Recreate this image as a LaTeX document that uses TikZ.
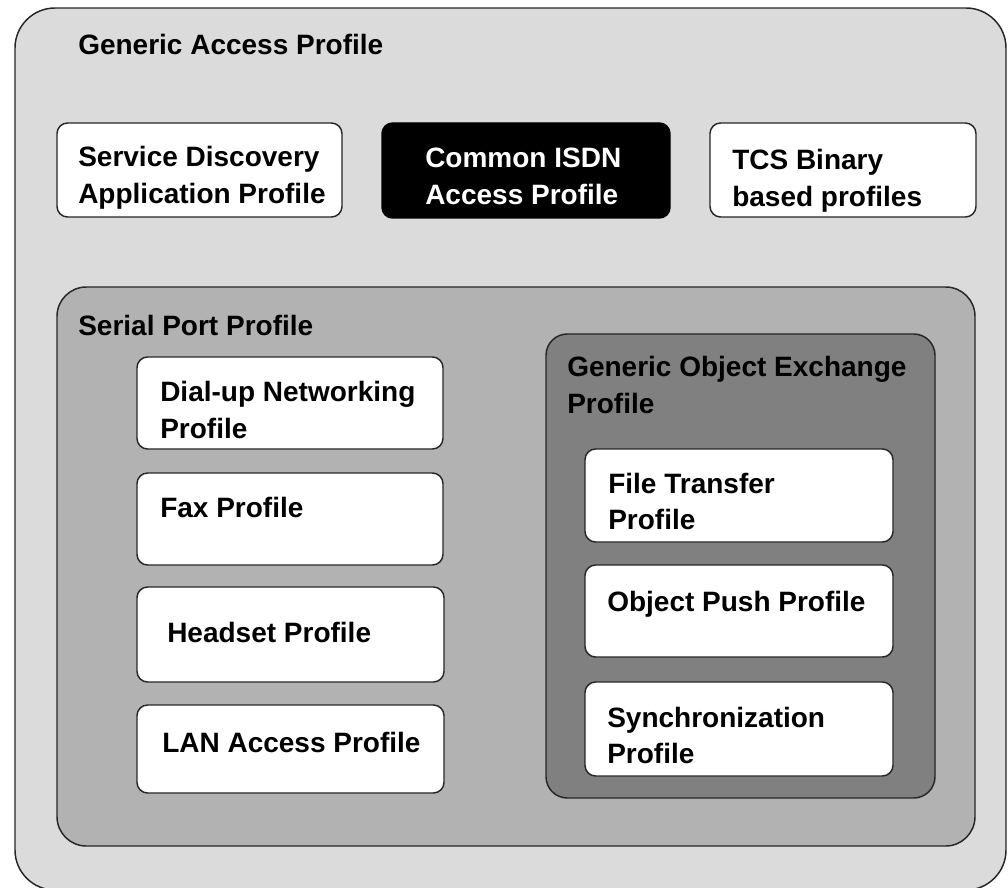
\documentclass[tikz,border=0pt]{standalone}
\usepackage{fontspec}
\setmainfont{Liberation Sans}
\usetikzlibrary{fit}

\definecolor{gapfill}{gray}{0.86}
\definecolor{sppfill}{gray}{0.70}
\definecolor{goepfill}{gray}{0.50}
\definecolor{edge}{gray}{0.15}

% two-line label whose baseline is that of its first line
\newcommand{\twolines}[2]{\begin{tabular}[t]{@{}l@{}}#1\\#2\end{tabular}}

\tikzset{
  frame/.style={draw=edge, line width=1.1pt, inner sep=0pt},
  gapbox/.style={frame, fill=gapfill, rounded corners=30pt},
  sppbox/.style={frame, fill=sppfill, rounded corners=22pt},
  goepbox/.style={frame, fill=goepfill, rounded corners=16pt},
  profile/.style={frame, fill=white, rounded corners=8pt},
  darkprofile/.style={frame, draw=black, fill=black, rounded corners=8pt},
  txt/.style={anchor=base west, inner sep=0pt,
    font=\bfseries\fontsize{21}{27.5}\selectfont},
}

\begin{document}
\begin{tikzpicture}[x=0.75pt,y=-0.75pt]
\useasboundingbox (0,0) rectangle (1008,888);
\clip (0,0) rectangle (1008,888);

% Generic Access Profile
\node[gapbox, fit={(15,8) (1006,890)}] (gap) {};
\node[txt] (gapT) at (78,55) {Generic Access Profile};

% top row of profiles
\node[profile, fit={(57,123) (342,217)}] (sdap) {};
\node[txt] (sdapT) at (78,167) {\twolines{Service Discovery}{Application Profile}};

\node[darkprofile, fit={(382,123) (670,218)}] (cisdn) {};
\node[txt, text=white] (cisdnT) at (425,168) {\twolines{Common ISDN}{Access Profile}};

\node[profile, fit={(710,123) (976,217)}] (tcs) {};
\node[txt] (tcsT) at (732,170) {\twolines{TCS Binary}{based profiles}};

% Serial Port Profile
\node[sppbox, fit={(57,287) (975,846)}] (spp) {};
\node[txt] (sppT) at (78,335) {Serial Port Profile};

\node[profile, fit={(137,357) (443,449)}] (dun) {};
\node[txt] (dunT) at (160,402) {\twolines{Dial-up Networking}{Profile}};

\node[profile, fit={(137,473) (443,565)}] (fax) {};
\node[txt] (faxT) at (160,517) {Fax Profile};

\node[profile, fit={(137,587) (444,682)}] (hs) {};
\node[txt] (hsT) at (167,642) {Headset Profile};

\node[profile, fit={(137,705) (444,793)}] (lan) {};
\node[txt] (lanT) at (162,752) {LAN Access Profile};

% Generic Object Exchange Profile
\node[goepbox, fit={(546,334) (935,798)}] (goep) {};
\node[txt] (goepT) at (567,377) {\twolines{Generic Object Exchange}{Profile}};

\node[profile, fit={(585,449) (893,542)}] (ftp) {};
\node[txt] (ftpT) at (608,493) {\twolines{File Transfer}{Profile}};

\node[profile, fit={(585,565) (893,657)}] (opp) {};
\node[txt] (oppT) at (607,611) {Object Push Profile};

\node[profile, fit={(585,682) (893,776)}] (sync) {};
\node[txt] (syncT) at (607,727) {\twolines{Synchronization}{Profile}};
\end{tikzpicture}
\end{document}
